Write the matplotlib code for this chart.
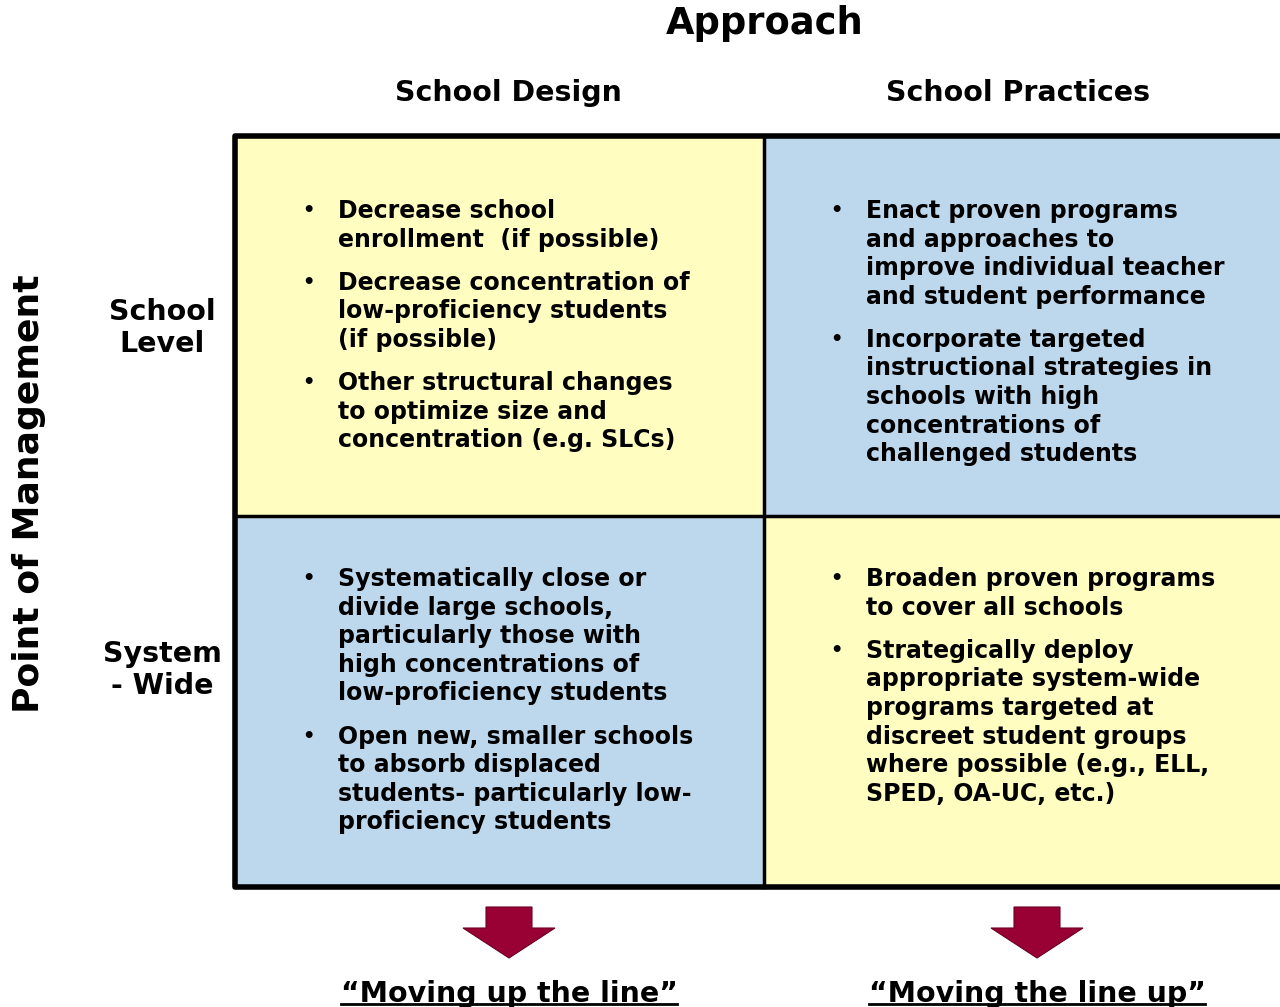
import matplotlib.pyplot as plt
from matplotlib.patches import Rectangle, Polygon

# --- content ---
title = "Approach"
col_labels = ["School Design", "School Practices"]
row_labels = ["School\nLevel", "System\n- Wide"]
y_label = "Point of Management"
footers = ["\u201cMoving up the line\u201d", "\u201cMoving the line up\u201d"]

top_left = [
    "Decrease school\nenrollment  (if possible)",
    "Decrease concentration of\nlow-proficiency students\n(if possible)",
    "Other structural changes\nto optimize size and\nconcentration (e.g. SLCs)",
]
top_right = [
    "Enact proven programs\nand approaches to\nimprove individual teacher\nand student performance",
    "Incorporate targeted\ninstructional strategies in\nschools with high\nconcentrations of\nchallenged students",
]
bottom_left = [
    "Systematically close or\ndivide large schools,\nparticularly those with\nhigh concentrations of\nlow-proficiency students",
    "Open new, smaller schools\nto absorb displaced\nstudents- particularly low-\nproficiency students",
]
bottom_right = [
    "Broaden proven programs\nto cover all schools",
    "Strategically deploy\nappropriate system-wide\nprograms targeted at\ndiscreet student groups\nwhere possible (e.g., ELL,\nSPED, OA-UC, etc.)",
]

yellow = "#FFFDC0"
blue = "#BDD7EC"
arrow_col = "#990033"

W, H = 1280, 1007
fig = plt.figure(figsize=(W / 100, H / 100), dpi=100)
ax = fig.add_axes([0, 0, 1, 1])
ax.set_xlim(0, W)
ax.set_ylim(H, 0)
ax.axis("off")

# grid: left, mid, right edge (off canvas), top, mid, bottom
x0, xm, x1 = 235, 763.5, 1300
y0, ym, y1 = 135.5, 515.5, 886.5
ax.add_patch(Rectangle((x0, y0), xm - x0, ym - y0, fc=yellow, ec="none"))
ax.add_patch(Rectangle((xm, y0), x1 - xm, ym - y0, fc=blue, ec="none"))
ax.add_patch(Rectangle((x0, ym), xm - x0, y1 - ym, fc=blue, ec="none"))
ax.add_patch(Rectangle((xm, ym), x1 - xm, y1 - ym, fc=yellow, ec="none"))
ax.plot([x1, x0, x0, x1], [y0, y0, y1, y1], color="black", lw=4, solid_capstyle="projecting")
ax.plot([xm, xm], [y0, y1], color="black", lw=2.5)
ax.plot([x0, x1], [ym, ym], color="black", lw=2.5)

bold = dict(fontweight="bold", family="DejaVu Sans")

ax.text(765, 24, title, fontsize=26.5, ha="center", va="center", **bold)
ax.text(508, 93, col_labels[0], fontsize=20.5, ha="center", va="center", **bold)
ax.text(1018, 93, col_labels[1], fontsize=20.5, ha="center", va="center", **bold)
ax.text(162, 328, row_labels[0], fontsize=20.5, ha="center", va="center", linespacing=1.2, **bold)
ax.text(162, 670, row_labels[1], fontsize=20.5, ha="center", va="center", linespacing=1.2, **bold)
ax.text(29, 494, y_label, fontsize=26, ha="center", va="center", rotation=90, **bold)


def bullets(items, xb, y_start, step=28.6, gap=14.5):
    y = y_start
    for item in items:
        ax.text(xb, y + 1, "\u2022", fontsize=14, ha="center", va="center", **bold)
        for line in item.split("\n"):
            ax.text(xb + 30, y + 1, line, fontsize=17, ha="left", va="center", **bold)
            y += step
        y += gap


bullets(top_left, 308, 210)
bullets(top_right, 836, 210)
bullets(bottom_left, 308, 578)
bullets(bottom_right, 836, 578)

# arrows + footers
for cx, label in zip([509, 1037], footers):
    pts = [(cx - 23, 907), (cx + 23, 907), (cx + 23, 928), (cx + 46, 928),
           (cx, 958), (cx - 46, 928), (cx - 23, 928)]
    ax.add_patch(Polygon(pts, closed=True, fc=arrow_col, ec="#6b0020", lw=0.8))
    ax.text(cx, 994, label, fontsize=20.5, ha="center", va="center", **bold)

fig.canvas.draw()
r = fig.canvas.get_renderer()
inv = ax.transData.inverted()
for t in [tt for tt in ax.texts if tt.get_text() in footers]:
    bb = t.get_window_extent(r)
    (xa, _), (xb2, _) = inv.transform([(bb.x0, 0), (bb.x1, 0)])
    ax.plot([xa, xb2], [1004, 1004], color="black", lw=2)

fig.savefig("out.png", dpi=100)
